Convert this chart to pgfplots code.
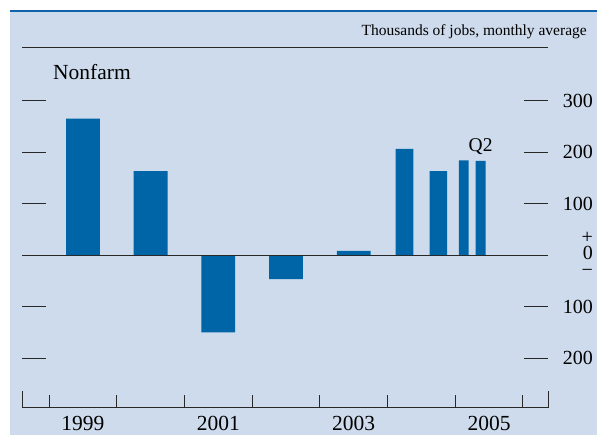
\documentclass[border=0pt]{standalone}
\usepackage{fontspec}
\setmainfont{Liberation Serif}
\usepackage{pgfplots}
\pgfplotsset{compat=1.18}
\definecolor{bgblue}{RGB}{206,219,236}
\definecolor{barblue}{RGB}{0,101,166}
\definecolor{topblue}{RGB}{16,98,170}
\definecolor{rulegray}{RGB}{40,40,40}
\begin{document}
\begin{tikzpicture}
\path[use as bounding box] (-22pt,-27pt) rectangle (575pt,408pt);
\fill[bgblue] (-12pt,-27pt) rectangle (575pt,396pt);
\draw[topblue, line width=2.5pt] (-12pt,397.2pt) -- (575pt,397.2pt);
\begin{axis}[
    at={(0pt,0pt)}, anchor=south west,
    width=526pt, height=360pt, scale only axis,
    xmin=1998.6, xmax=2006.37, ymin=-297, ymax=402,
    clip=false,
    separate axis lines,
    y axis line style={draw=none},
    x axis line style={rulegray, line width=1pt},
    xtick={1999.5,2001.5,2003.5,2005.5},
    xticklabels={1999,2001,2003,2005},
    xtick style={draw=none},
    xticklabel style={anchor=base, yshift=-23pt, inner sep=0pt, font=\fontsize{21.5}{24}\selectfont},
    ytick={-200,-100,0,100,200,300},
    yticklabels={200,100,{},100,200,300},
    ytick pos=both,
    yticklabel pos=right,
    tick align=inside,
    major tick length=24pt,
    ytick style={rulegray, line width=1pt},
    yticklabel style={anchor=east, xshift=45pt, inner sep=0pt, font=\fontsize{20}{24}\selectfont},
    /pgf/number format/assume math mode=true,
]
% annual averages
\addplot[ybar, bar width=0.5, bar shift=0pt, fill=barblue, draw=none]
    coordinates {(1999.5,265)(2000.5,163)(2001.5,-150)(2002.5,-47)(2003.5,8)};
% 2004 half years
\addplot[ybar, bar width=0.26, bar shift=0pt, fill=barblue, draw=none]
    coordinates {(2004.25,206)(2004.75,163)};
% 2005 quarters
\addplot[ybar, bar width=0.145, bar shift=0pt, fill=barblue, draw=none]
    coordinates {(2005.125,184)(2005.375,183)};

\draw[rulegray, line width=1pt] (axis cs:1998.6,0) -- (axis cs:2006.37,0);
\pgfplotsinvokeforeach{1999,2000,2001,2002,2003,2004,2005,2006}{
    \draw[rulegray, line width=1pt] (axis cs:#1,-297) -- ++(0pt,13pt);
}
\draw[rulegray, line width=1pt] (rel axis cs:0,0) -- ++(0pt,17pt);
\draw[rulegray, line width=1pt] (rel axis cs:1,0) -- ++(0pt,17pt);

\node[anchor=base east, inner sep=0pt, xshift=45pt, yshift=-4.7pt, font=\fontsize{20}{24}\selectfont] at (axis cs:2006.37,0) {0};
\node[anchor=base east, inner sep=0pt, xshift=45pt, yshift=12pt, font=\fontsize{20}{24}\selectfont] at (axis cs:2006.37,0) {+};
\node[anchor=base east, inner sep=0pt, xshift=45pt, yshift=-21pt, font=\fontsize{20}{24}\selectfont] at (axis cs:2006.37,0) {−};
\node[anchor=base, inner sep=0pt, yshift=9pt, font=\fontsize{19.5}{22}\selectfont] at (axis cs:2005.375,183) {Q2};
\end{axis}
\node[anchor=base east, inner sep=0pt, font=\fontsize{15.5}{18}\selectfont] at (565pt,372pt) {Thousands of jobs, monthly average};
\node[anchor=base west, inner sep=0pt, font=\fontsize{21.5}{26}\selectfont] at (31pt,328pt) {Nonfarm};
\end{tikzpicture}
\end{document}
